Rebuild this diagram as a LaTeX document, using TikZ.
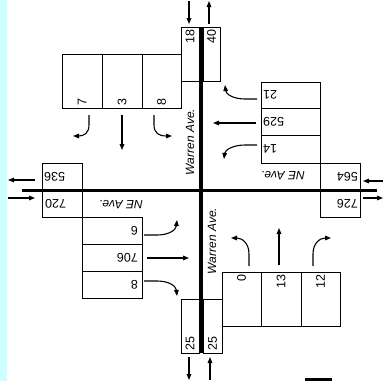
\documentclass[tikz,border=0pt]{standalone}
\usepackage{fontspec}
\setmainfont{Liberation Sans}
\usetikzlibrary{arrows.meta}
\definecolor{panelblue}{HTML}{CCFFFF}

\begin{document}
\begin{tikzpicture}[
  x=1pt,
  y=-1pt,
  every node/.style={font=\fontsize{12.5}{14}\selectfont, inner sep=0pt},
  road/.style={black, line width=3.6pt},
  cell/.style={black, line width=0.8pt},
  flow/.style={black, line width=1.1pt, -{Triangle[length=6pt,width=4.6pt]}},
  upnum/.style={rotate=90},
  flipnum/.style={rotate=180},
  roadname/.style={font=\fontsize{12}{14}\selectfont\itshape}
]
  \useasboundingbox (0,0) rectangle (383,381);
  \fill[panelblue] (0,0) rectangle (7,381);

  % ---- north approach ----
  \draw[cell] (181,27) rectangle (199,81);
  \draw[cell] (203,27) rectangle (220,81);
  \draw[cell] (62,54) rectangle (181,108);
  \foreach \x in {102,142}
    \draw[cell] (\x,54) -- (\x,108);

  % ---- east approach ----
  \draw[cell] (261,82) rectangle (320,163);
  \foreach \y in {108,135}
    \draw[cell] (261,\y) -- (320,\y);
  \draw[cell] (320,163) rectangle (360,190);
  \draw[cell] (320,190) rectangle (360,217);

  % ---- west approach ----
  \draw[cell] (42,163) rectangle (82,190);
  \draw[cell] (42,190) rectangle (82,217);
  \draw[cell] (82,217) rectangle (142,298);
  \foreach \y in {244,271}
    \draw[cell] (82,\y) -- (142,\y);

  % ---- south approach ----
  \draw[cell] (181,299) rectangle (199,353);
  \draw[cell] (203,299) rectangle (222,353);
  \draw[cell] (222,272) rectangle (340,326);
  \foreach \x in {261,301}
    \draw[cell] (\x,272) -- (\x,326);

  % ---- the two roads ----
  \draw[road] (201,27) -- (201,353);
  \draw[road] (22,190.5) -- (377,190.5);

  % ---- turning flows ----
  \draw[flow] (89,115) -- (89,125) .. controls (89,133) and (84,136) .. (73,136);
  \draw[flow] (122,115) -- (122,150);
  \draw[flow] (154,115) -- (154,125) .. controls (154,133) and (159,136) .. (172,136);

  \draw[flow] (257,99) -- (245,99) .. controls (233,99) and (226,94) .. (225,85);
  \draw[flow] (256,123) -- (213,123);
  \draw[flow] (257,145) -- (245,145) .. controls (233,145) and (225,150) .. (224,159);

  \draw[flow] (144,235) -- (157,235) .. controls (169,235) and (176,230) .. (177,220);
  \draw[flow] (147,258) -- (189,258);
  \draw[flow] (144,281) -- (157,281) .. controls (169,281) and (176,286) .. (177,296);

  \draw[flow] (249,266) -- (249,254) .. controls (249,243) and (242,238) .. (231,238);
  \draw[flow] (279,265) -- (279,228);
  \draw[flow] (313,266) -- (313,254) .. controls (313,243) and (320,238) .. (331,238);

  % ---- entering and leaving ----
  \draw[flow] (189,1) -- (189,24);
  \draw[flow] (209,24) -- (209,1);
  \draw[flow] (189,357) -- (189,380);
  \draw[flow] (210,380) -- (210,357);
  \draw[flow] (35,180) -- (8,180);
  \draw[flow] (8,198) -- (35,198);
  \draw[flow] (383,181) -- (363,181);
  \draw[flow] (363,198) -- (383,198);

  \fill (305,377.5) rectangle (332,380.5);

  % ---- counts ----
  \node[upnum, anchor=east] (outN) at (190,29) {18};
  \node[upnum, anchor=east] (inN) at (211.5,29) {40};
  \foreach \x/\v [count=\i] in {82/7, 122/3, 161.5/8}
    \node[upnum, anchor=west] (north\i) at (\x,106) {\v};

  \foreach \y/\v [count=\i] in {95/21, 121.5/529, 149/14}
    \node[flipnum, anchor=east] (east\i) at (263,\y) {\v};
  \node[flipnum, anchor=west] (inE) at (358,176.5) {564};
  \node[flipnum, anchor=west] (outE) at (358,203.5) {726};

  \node[flipnum, anchor=east] (outW) at (44,176.5) {536};
  \node[flipnum, anchor=east] (inW) at (45,203.5) {720};
  \foreach \y/\v [count=\i] in {230.5/6, 257.5/706, 284.5/8}
    \node[flipnum, anchor=west] (west\i) at (138,\y) {\v};

  \foreach \x/\v [count=\i] in {241.5/0, 281/13, 320.5/12}
    \node[upnum, anchor=east] (south\i) at (\x,274) {\v};
  \node[upnum, anchor=west] (outS) at (190,351) {25};
  \node[upnum, anchor=west] (inS) at (212.5,351) {25};

  % ---- road names ----
  \node[roadname, upnum] (warrenN) at (190,142) {Warren Ave.};
  \node[roadname, upnum] (warrenS) at (212,241) {Warren Ave.};
  \node[roadname, flipnum] (neE) at (283,176) {NE Ave.};
  \node[roadname, flipnum] (neW) at (121,205) {NE Ave.};
\end{tikzpicture}
\end{document}
